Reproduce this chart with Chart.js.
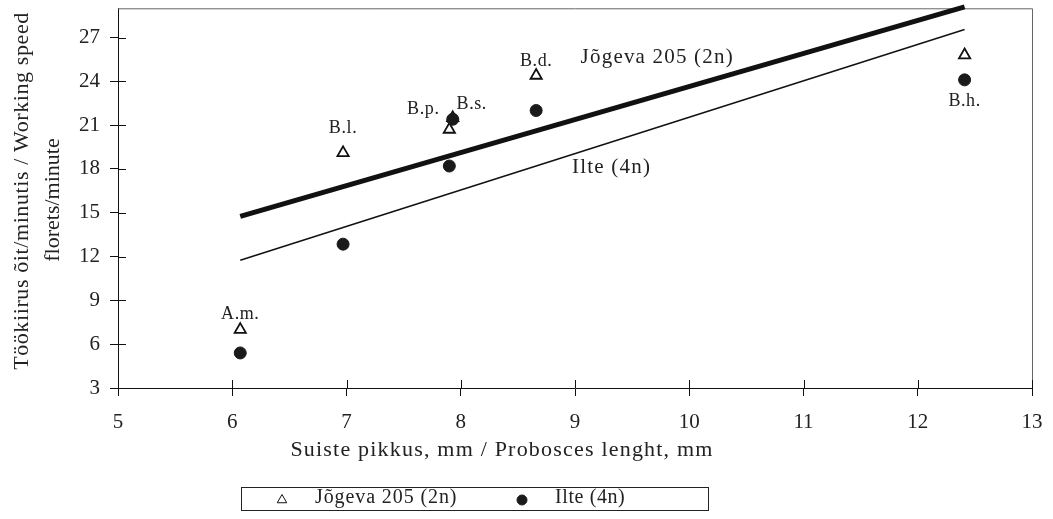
<!DOCTYPE html>
<html>
<head>
<meta charset="utf-8">
<title>Töökiirus / Working speed</title>
<script src="https://cdn.jsdelivr.net/npm/chart.js@4.4.1/dist/chart.umd.min.js"></script>
<style>
  html, body { margin:0; padding:0; background:#fff; }
  #wrap { width:1053px; height:519px; position:relative; }
</style>
</head>
<body>
<div id="wrap"><canvas id="chart"></canvas></div>
<script>
/* ---------- DATA ---------- */
const speciesLabels = ["A.m.", "B.l.", "B.p.", "B.s.", "B.d.", "B.h."];
const proboscisMm   = [6.07, 6.97, 7.90, 7.93, 8.66, 12.41];   // x, mm
const speedJogeva   = [7.0, 19.1, 20.7, 21.5, 24.4, 25.8];     // triangles
const speedIlte     = [5.4, 12.85, 18.2, 21.4, 22.0, 24.1];    // dots
const trendX        = [6.07, 12.41];
const trendJogeva   = [14.75, 29.1];
const trendIlte     = [11.75, 27.55];
const xRange = [5, 13];
const yRange = [3, 29];
const yStep  = 3;
const seriesNames = ["Jõgeva 205 (2n)", "Ilte (4n)"];
const xTitle = "Suiste pikkus, mm / Probosces lenght, mm";
const yTitle = ["Töökiirus õit/minutis / Working speed", "florets/minute"];

/* ---------- LOOK ---------- */
const FONT = "'Liberation Serif', 'DejaVu Serif', serif";
const INK = "#222";
// label offsets (px) from each triangle
const labelOffsets = [[0,-15],[0,-25],[-26,-20],[19,-14],[0,-14],[0,46]];
// where the series names sit, in data units
const seriesLabelAt = [[9.72, 25.65], [9.32, 18.12]];

function pts(xs, ys){ return xs.map((x,i)=>({x:x, y:ys[i]})); }

function txt(ctx, s, x, y, size, align, spacing){
  ctx.save();
  ctx.font = size + "px " + FONT;
  ctx.fillStyle = INK;
  ctx.textAlign = align || "center";
  ctx.textBaseline = "middle";
  ctx.letterSpacing = (spacing || 0) + "px";
  ctx.fillText(s, x, y);
  ctx.restore();
}

/* ---------- overlay plugin: frame, inner ticks, labels, legend ---------- */
const overlay = {
  id: "overlay",
  beforeDatasetsDraw(chart){
    const {ctx, chartArea:a, scales} = chart;
    ctx.save();
    ctx.strokeStyle = "#666"; ctx.lineWidth = 1;
    ctx.beginPath();
    ctx.moveTo(a.left, a.top + 0.5); ctx.lineTo(a.right + 0.5, a.top + 0.5); ctx.lineTo(a.right + 0.5, a.bottom);
    ctx.stroke();
    // tick marks crossing into the plot
    ctx.strokeStyle = "#111";
    ctx.beginPath();
    scales.x.ticks.forEach(t=>{
      const px = Math.round(scales.x.getPixelForValue(t.value)) + 0.5;
      ctx.moveTo(px, a.bottom); ctx.lineTo(px, a.bottom - 8);
    });
    scales.y.ticks.forEach(t=>{
      const py = Math.round(scales.y.getPixelForValue(t.value)) + 0.5;
      ctx.moveTo(a.left, py); ctx.lineTo(a.left + 8, py);
    });
    ctx.stroke();
    ctx.restore();
  },
  afterDraw(chart){
    const {ctx, chartArea:a, scales} = chart;
    const sx = scales.x, sy = scales.y;

    // point labels
    speciesLabels.forEach((s,i)=>{
      const x = sx.getPixelForValue(proboscisMm[i]) + labelOffsets[i][0];
      const y = sy.getPixelForValue(speedJogeva[i]) + labelOffsets[i][1];
      txt(ctx, s, x, y, 18, "center", 0.6);
    });

    // series names next to the trend lines
    seriesNames.forEach((s,i)=>{
      txt(ctx, s, sx.getPixelForValue(seriesLabelAt[i][0]), sy.getPixelForValue(seriesLabelAt[i][1]), 21, "center", 1.2);
    });

    // axis titles
    txt(ctx, xTitle, (a.left + a.right)/2 - 73, 450, 22, "center", 1.2);
    ctx.save();
    ctx.translate(22, 191);
    ctx.rotate(-Math.PI/2);
    txt(ctx, yTitle[0], 0, 0, 22, "center", 0.6);
    ctx.restore();
    ctx.save();
    ctx.translate(53, 200);
    ctx.rotate(-Math.PI/2);
    txt(ctx, yTitle[1], 0, 0, 22, "center", 0);
    ctx.restore();

    // legend box
    ctx.save();
    ctx.strokeStyle = "#222"; ctx.lineWidth = 1;
    ctx.strokeRect(241.5, 487.5, 467, 23);
    ctx.strokeStyle = "#111"; ctx.fillStyle = "#fff";
    Chart.helpers.drawPoint(ctx, {pointStyle:"triangle", rotation:0, radius:5.5, borderWidth:1.8}, 282, 500);
    ctx.fillStyle = "#1a1a1a"; ctx.strokeStyle = "#1a1a1a";
    Chart.helpers.drawPoint(ctx, {pointStyle:"circle", rotation:0, radius:5, borderWidth:1}, 522, 500);
    ctx.restore();
    txt(ctx, seriesNames[0], 315, 498, 20, "left", 0.9);
    txt(ctx, seriesNames[1], 555, 498, 20, "left", 0.6);
  }
};

/* ---------- chart ---------- */
const ctx = document.getElementById("chart").getContext("2d");
new Chart(ctx, {
  type: "scatter",
  data: {
    datasets: [
      {label: seriesNames[1], data: pts(proboscisMm, speedIlte), pointStyle:"circle",
       pointRadius:6, pointBorderWidth:1, backgroundColor:"#1a1a1a", borderColor:"#1a1a1a", order:0},
      {label: seriesNames[0], data: pts(proboscisMm, speedJogeva), pointStyle:"triangle",
       pointRadius:6.5, pointBorderWidth:1.8, backgroundColor:"#fff", borderColor:"#111", order:1},
      {type:"line", label:"trend " + seriesNames[0], data: pts(trendX, trendJogeva),
       borderColor:"#111", borderWidth:5, pointRadius:0, fill:false, clip:false, order:2},
      {type:"line", label:"trend " + seriesNames[1], data: pts(trendX, trendIlte),
       borderColor:"#111", borderWidth:1.5, pointRadius:0, fill:false, clip:false, order:2}
    ]
  },
  options: {
    responsive:true,
    maintainAspectRatio:false,
    animation:false,
    layout:{padding:{top:8, right:21, left:0, bottom:0}},
    plugins:{legend:{display:false}, tooltip:{enabled:false}},
    scales:{
      x:{
        type:"linear", min:xRange[0], max:xRange[1],
        afterFit(s){ s.height = 131; s.paddingLeft = 0; s.paddingRight = 0; },
        ticks:{stepSize:1, color:INK, padding:14, font:{family:FONT, size:21}},
        grid:{drawOnChartArea:false, tickLength:8, color:"#111"},
        border:{color:"#111", width:1}
      },
      y:{
        type:"linear", min:yRange[0], max:yRange[1],
        afterFit(s){ s.width = 118; s.paddingTop = 0; s.paddingBottom = 0; },
        ticks:{stepSize:yStep, includeBounds:false, color:INK, padding:10, font:{family:FONT, size:21}},
        grid:{drawOnChartArea:false, tickLength:8, color:"#111"},
        border:{color:"#111", width:1}
      }
    }
  },
  plugins:[overlay]
});
</script>
</body>
</html>
